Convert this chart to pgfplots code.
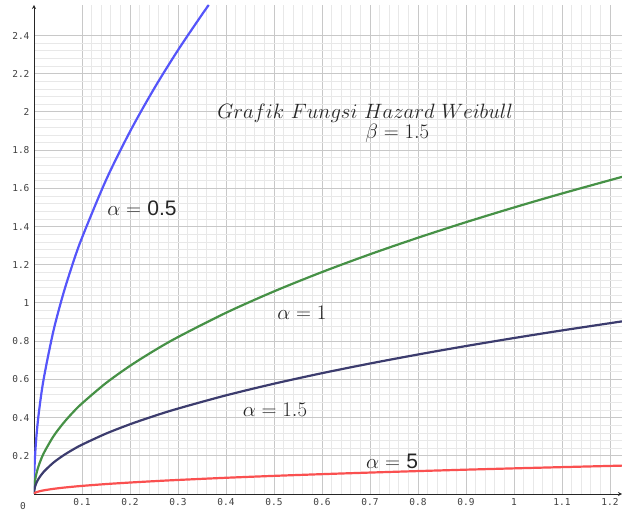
\documentclass[border=0pt]{standalone}
\usepackage{fontspec}
\usepackage{pgfplots}
\pgfplotsset{compat=1.18}
\newfontfamily\tickfont{DejaVu Sans Mono}
\newfontfamily\labsans{Liberation Sans}

\definecolor{cblue}{RGB}{85,85,250}
\definecolor{cgreen}{RGB}{70,145,70}
\definecolor{cnavy}{RGB}{60,60,110}
\definecolor{cred}{RGB}{250,80,80}
\definecolor{gmajor}{RGB}{200,200,200}
\definecolor{gminor}{RGB}{232,232,232}

\begin{document}
\begin{tikzpicture}
\begin{axis}[
  name=ax,
  scale only axis,
  width=588pt, height=489pt,
  xmin=0, xmax=1.225, ymin=0, ymax=2.56,
  axis lines=left,
  axis line style={draw=black!85, line width=0.8pt},
  xtick={0.1,0.2,0.3,0.4,0.5,0.6,0.7,0.8,0.9,1,1.1,1.2},
  xticklabels={0.1,0.2,0.3,0.4,0.5,0.6,0.7,0.8,0.9,1,1.1,1.2},
  ytick={0.2,0.4,0.6,0.8,1,1.2,1.4,1.6,1.8,2,2.2,2.4},
  yticklabels={0.2,0.4,0.6,0.8,1,1.2,1.4,1.6,1.8,2,2.2,2.4},
  minor x tick num=4, minor y tick num=4,
  grid=both,
  major grid style={draw=gmajor, line width=1pt},
  minor grid style={draw=gminor, line width=0.7pt},
  major tick length=0pt, minor tick length=0pt,
  /pgf/number format/assume math mode=true,
  ticklabel style={font=\tickfont\fontsize{9.5}{10}\selectfont, text=black!75},
  xticklabel style={yshift=-1pt},
  yticklabel style={xshift=-1pt},
  clip=true,
]
% Weibull hazard h(t) = (beta/alpha)(t/alpha)^(beta-1), beta = 1.5
\addplot[cblue, line width=2.2pt, smooth] coordinates {
 (0,0) (0.0005,0.0949) (0.002,0.1897) (0.005,0.3) (0.01,0.4243) (0.02,0.6)
 (0.04,0.8485) (0.06,1.0392) (0.08,1.2) (0.1,1.3416) (0.15,1.6432)
 (0.2,1.8974) (0.25,2.1213) (0.3,2.3238) (0.35,2.5100) (0.3641,2.56)
};
\addplot[cgreen, line width=2.2pt, smooth] coordinates {
 (0,0) (0.0005,0.0335) (0.002,0.0671) (0.005,0.1061) (0.01,0.15) (0.02,0.2121)
 (0.04,0.3) (0.06,0.3674) (0.08,0.4243) (0.1,0.4743) (0.15,0.5809)
 (0.2,0.6708) (0.25,0.75) (0.3,0.8216) (0.4,0.9487) (0.5,1.0607)
 (0.6,1.1619) (0.7,1.2550) (0.8,1.3416) (0.9,1.4230) (1.0,1.5)
 (1.1,1.5732) (1.225,1.6602)
};
\addplot[cnavy, line width=2.2pt, smooth] coordinates {
 (0,0) (0.0005,0.01826) (0.002,0.03651) (0.005,0.05774) (0.01,0.08165) (0.02,0.11547)
 (0.04,0.1633) (0.06,0.2) (0.08,0.2309) (0.1,0.2582) (0.15,0.3162)
 (0.2,0.3651) (0.25,0.4082) (0.3,0.4472) (0.4,0.5164) (0.5,0.5774)
 (0.6,0.6325) (0.7,0.6831) (0.8,0.7303) (0.9,0.7746) (1.0,0.8165)
 (1.1,0.8563) (1.225,0.9037)
};
\addplot[cred, line width=2.2pt, smooth] coordinates {
 (0,0) (0.0005,0.0030) (0.002,0.0060) (0.005,0.0095) (0.01,0.0134) (0.02,0.0190)
 (0.04,0.0268) (0.06,0.0329) (0.08,0.0379) (0.1,0.0424) (0.15,0.0520)
 (0.2,0.0600) (0.25,0.0671) (0.3,0.0735) (0.4,0.0849) (0.5,0.0949)
 (0.6,0.1039) (0.7,0.1122) (0.8,0.1200) (0.9,0.1273) (1.0,0.1342)
 (1.1,0.1407) (1.225,0.1485)
};
\node[font=\fontsize{22.5}{24}\selectfont, text=black!85] at (axis cs:0.69,1.995)
  {$Grafik\ Fungsi\ Hazard\ Weibull$};
\node[font=\fontsize{21}{24}\selectfont, text=black!85] at (axis cs:0.757,1.89) {$\beta=1.5$};
\node[font=\fontsize{21}{24}\selectfont, text=black!85] at (axis cs:0.225,1.497)
  {$\alpha=$ {\labsans 0.5}};
\node[font=\fontsize{21}{24}\selectfont, text=black!85] at (axis cs:0.558,0.948) {$\alpha=1$};
\node[font=\fontsize{21}{24}\selectfont, text=black!85] at (axis cs:0.502,0.44) {$\alpha=1.5$};
\node[font=\fontsize{21}{24}\selectfont, text=black!85] at (axis cs:0.746,0.173)
  {$\alpha=$ {\labsans 5}};
\end{axis}
\node[font=\tickfont\fontsize{9.5}{10}\selectfont, text=black!75] at ([xshift=-11pt,yshift=-12pt]ax.south west) {0};
\pgfresetboundingbox
\path ([xshift=-34pt,yshift=-18pt]ax.south west) rectangle ([yshift=5pt]ax.north east);
\end{tikzpicture}
\end{document}
